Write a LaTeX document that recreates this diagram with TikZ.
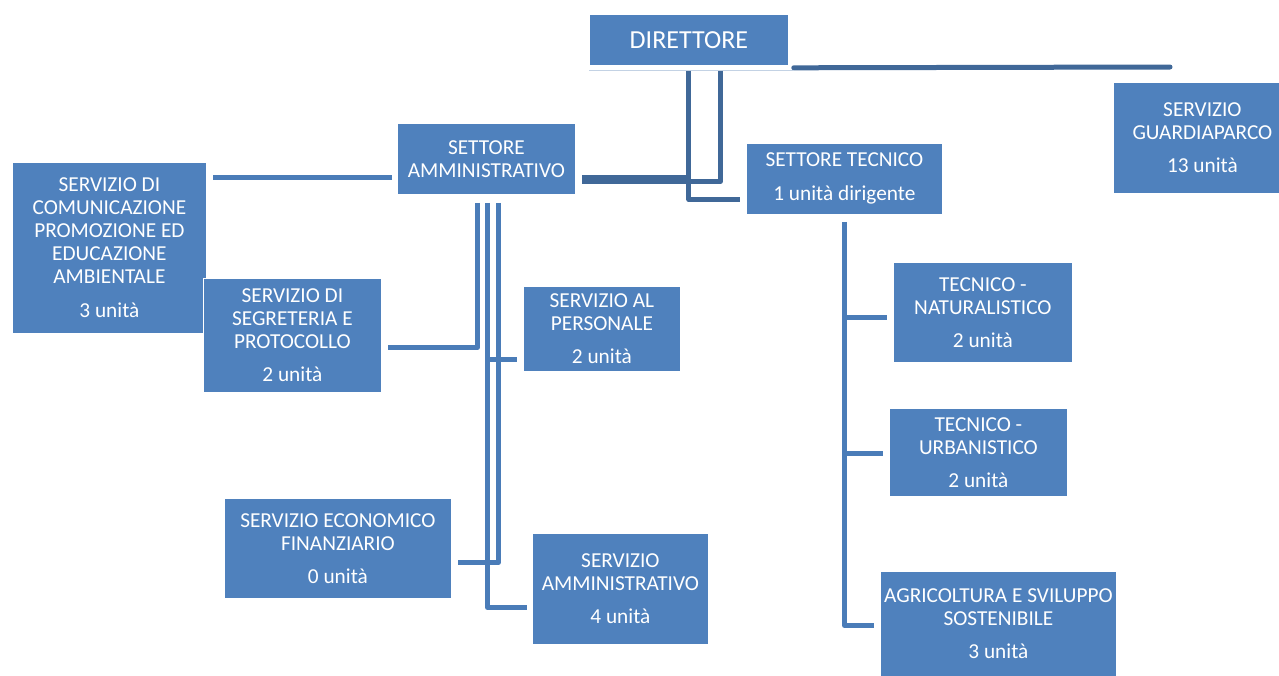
\documentclass[tikz,border=0pt]{standalone}
\usepackage{fontspec}
\setmainfont{Carlito}
\definecolor{boxblue}{RGB}{79,129,189}
\definecolor{dkline}{RGB}{64,104,152}
\definecolor{ltline}{RGB}{74,124,184}
\definecolor{faint}{RGB}{195,210,228}
\begin{document}
\begin{tikzpicture}[x=1pt,y=-1pt,
  box/.style={fill=boxblue, draw=white, line width=0.8pt, text=white, align=center, inner sep=0pt, anchor=north west, font=\fontsize{21.3}{23}\selectfont},
  sz/.style 2 args={minimum width=#1pt, minimum height=#2pt},
  dk/.style={draw=dkline, line width=5pt, line join=round},
  lt/.style={draw=ltline, line width=5pt, line join=round},
]
\useasboundingbox (0,0) rectangle (1279,675);
\clip (0,0) rectangle (1279,675);

% boxes
\node[box, sz={199}{51}, font=\fontsize{26}{30}\selectfont] (dir) at (589,14) {DIRETTORE};
\node[box, sz={178}{111}] (gua) at (1113,82) {SERVIZIO\\GUARDIAPARCO\\[10pt]13 unità};
\node[box, sz={178}{71}] (sam) at (397,123) {SETTORE\\AMMINISTRATIVO};
\node[box, sz={196}{71}] (tec) at (746,143) {SETTORE TECNICO\\[11pt]1 unità dirigente};
\node[box, sz={194}{171}] (com) at (12,162) {SERVIZIO DI\\COMUNICAZIONE\\PROMOZIONE ED\\EDUCAZIONE\\AMBIENTALE\\[11pt]3 unità};
\node[box, sz={178}{114}] (seg) at (203,278) {SERVIZIO DI\\SEGRETERIA E\\PROTOCOLLO\\[10pt]2 unità};
\node[box, sz={157}{85}] (per) at (523,286) {SERVIZIO AL\\PERSONALE\\[10pt]2 unità};
\node[box, sz={227}{100}] (eco) at (224,498) {SERVIZIO ECONOMICO\\FINANZIARIO\\[10pt]0 unità};
\node[box, sz={176}{111}] (amm) at (532,533) {SERVIZIO\\AMMINISTRATIVO\\[10pt]4 unità};
\node[box, sz={179}{100}] (nat) at (893,262) {TECNICO -\\NATURALISTICO\\[10pt]2 unità};
\node[box, sz={178}{88}] (urb) at (889,408) {TECNICO -\\URBANISTICO\\[10pt]2 unità};
\node[box, sz={236}{105}] (agr) at (880,571) {AGRICOLTURA E SVILUPPO\\SOSTENIBILE\\[10pt]3 unità};

% upper connectors
\coordinate (guaend) at (1170,67);
\draw[dk, line cap=round] ([xshift=5pt,yshift=-2pt]dir.south east) -- (guaend);
\draw[faint, line width=1pt] ([yshift=-5pt]dir.south west) -- ([xshift=5pt,yshift=-5pt]dir.south east);
\coordinate (v1) at ([yshift=-5pt]dir.south);
\coordinate (v2) at ([xshift=31.5pt,yshift=-5pt]dir.south);
\draw[dk] (v1) |- ([xshift=-6pt,yshift=-20.5pt]tec.west);
\draw[dk] (v1) |- ([xshift=6pt,yshift=-18.5pt]sam.east);
\draw[dk] (v2) |- ([xshift=6pt,yshift=-22.5pt]sam.east);

% settore amministrativo connectors
\coordinate (s1) at ([xshift=-5pt,yshift=-19pt]sam.west);
\draw[lt, shorten >=6pt] (s1) -- (s1 -| com.east);
\coordinate (a1) at ([xshift=-9pt,yshift=-8pt]sam.south);
\coordinate (a2) at ([xshift=1pt,yshift=-8pt]sam.south);
\coordinate (a3) at ([xshift=12pt,yshift=-8pt]sam.south);
\draw[lt, shorten >=6pt] (a1) |- ([yshift=-12pt]seg.east);
\draw[lt, shorten >=6pt] (a3) |- ([yshift=-14pt]eco.east);
\draw[lt, shorten >=5pt] (a2) |- ([yshift=-18.5pt]amm.west);
\coordinate (pin) at ([yshift=-30.5pt]per.west);
\draw[lt, shorten >=6pt] (a2 |- pin) -- (pin);

% settore tecnico connectors
\coordinate (t0) at ([yshift=-7pt]tec.south);
\draw[lt, shorten >=6pt] (t0) |- ([yshift=-1.5pt]agr.west);
\coordinate (nin) at ([yshift=-5pt]nat.west);
\draw[lt, shorten >=6pt] (t0 |- nin) -- (nin);
\coordinate (uin) at ([yshift=-1pt]urb.west);
\draw[lt, shorten >=6pt] (t0 |- uin) -- (uin);
\end{tikzpicture}
\end{document}
